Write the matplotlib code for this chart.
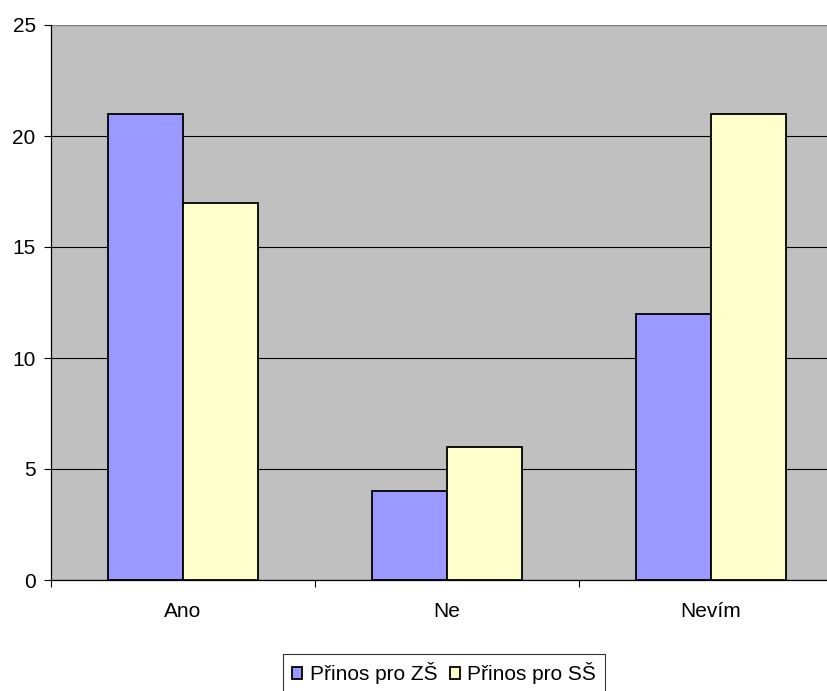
import matplotlib.pyplot as plt
import numpy as np

plt.rcParams['font.family'] = ['Liberation Sans', 'DejaVu Sans']

categories = ['Ano', 'Ne', 'Nevím']
prinos_zs = [21, 4, 12]
prinos_ss = [17, 6, 21]
series_names = ['Přinos pro ZŠ', 'Přinos pro SŠ']

fig = plt.figure(figsize=(8.27, 6.91), dpi=100)
ax = fig.add_axes([51 / 827, 1 - 580 / 691, 792 / 827, 555 / 691])
ax.set_facecolor('#C0C0C0')

x = np.arange(len(categories))
w = 1 / 3.5
ax.bar(x - w / 2, prinos_zs, w, color='#9999FF', edgecolor='black', linewidth=1.3, zorder=3, label=series_names[0])
ax.bar(x + w / 2, prinos_ss, w, color='#FFFFCC', edgecolor='black', linewidth=1.3, zorder=3, label=series_names[1])

ax.set_xlim(-0.5, len(categories) - 0.5)
ax.set_ylim(0, 25)
ax.set_yticks(np.arange(0, 26, 5))
ax.grid(axis='y', color='black', linewidth=0.8, zorder=1)

ax.set_xticks(x)
ax.set_xticklabels(categories)
ax.set_xticks(np.arange(-0.5, len(categories)), minor=True)
ax.tick_params(axis='x', which='major', length=0, pad=16, labelsize=15)
ax.tick_params(axis='x', which='minor', length=5, width=0.8, direction='out')
ax.tick_params(axis='y', length=5, width=0.8, pad=6, labelsize=15)

for side in ['top', 'right']:
    ax.spines[side].set_visible(False)
ax.spines['left'].set_linewidth(0.9)
ax.spines['bottom'].set_linewidth(0.9)
ax.axhline(25, color='#808080', linewidth=1.5, zorder=2)

leg = fig.legend(loc='center', bbox_to_anchor=(444 / 827, 1 - 673 / 691), ncol=2,
                 frameon=True, fancybox=False, edgecolor='black', fontsize=15,
                 handlelength=0.5, handleheight=0.5, handletextpad=0.35,
                 columnspacing=0.6, borderpad=0.4, borderaxespad=0)
leg.get_frame().set_linewidth(0.8)

fig.savefig('out.png', dpi=100)
